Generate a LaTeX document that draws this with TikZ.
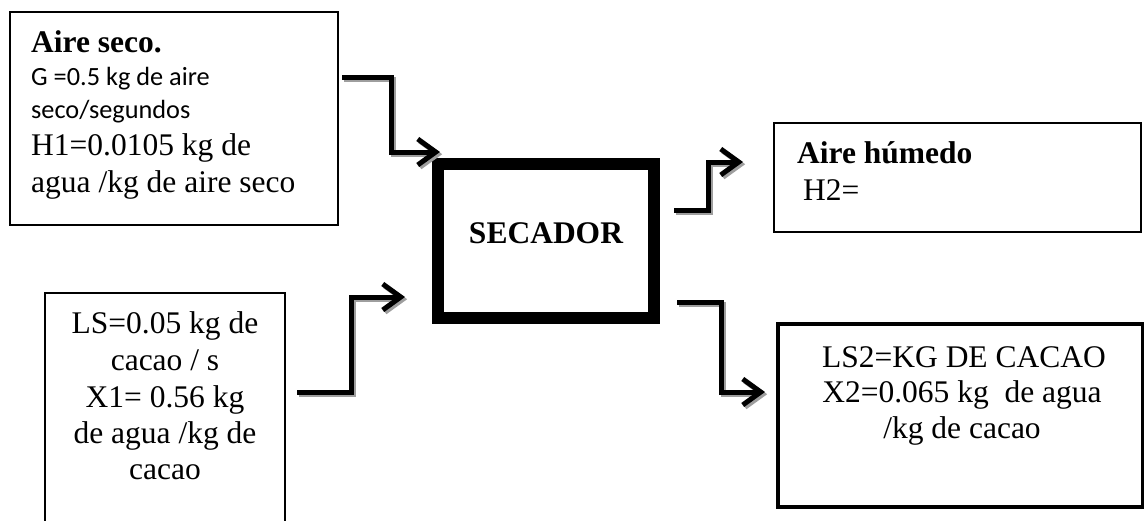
\documentclass[tikz,border=0pt]{standalone}
\usepackage{fontspec}
\setmainfont{Liberation Serif}
\newfontfamily\calibfont{Carlito}
\usetikzlibrary{arrows.meta,calc}
\tikzset{
  box/.style={draw, line width=1.5pt, inner sep=0pt, outer sep=0pt},
  tx/.style={inner sep=0pt, font=\fontsize{31.5}{36}\selectfont},
  txb/.style={inner sep=0pt, font=\fontsize{31.5}{36}\selectfont\bfseries},
  txs/.style={inner sep=0pt, font=\calibfont\fontsize{26.3}{30}\selectfont},
  flow/.style={line width=5pt, -{Straight Barb[length=18pt,width=26pt]}},
  flowshadow/.style={flow, draw=black!38, transform canvas={xshift=2.2pt,yshift=-2.2pt}},
}
\begin{document}
\begin{tikzpicture}[x=1pt,y=-1pt]
\useasboundingbox (0,0) rectangle (1144,520);
% boxes
\node[box, minimum width=328pt, minimum height=213pt] (A) at (174,118.5) {};
\node[box, minimum width=367pt, minimum height=109pt] (B) at (957.5,177.5) {};
\node[box, line width=12pt, minimum width=216pt, minimum height=154pt] (S) at (546,241) {};
\node[box, minimum width=240pt, minimum height=237pt] (C) at (165,411.5) {};
\node[box, line width=4pt, minimum width=365pt, minimum height=183pt] (D) at (960.5,415.5) {};
% texts of A
\node[txb, anchor=base west] (A1) at (31,52) {Aire seco.};
\node[txs, anchor=base west] (A2) at (31,85) {G =0.5 kg de aire};
\node[txs, anchor=base west] (A3) at (31,118) {seco/segundos};
\node[tx, anchor=base west] (A4) at (31,155) {H1=0.0105 kg de};
\node[tx, anchor=base west] (A5) at (31,192) {agua /kg de aire seco};
% texts of B
\node[txb, anchor=base west] (B1) at (797,163) {Aire húmedo};
\node[tx, anchor=base west] (B2) at (803,200) {H2=};
% text of S
\node[txb, anchor=base] (S1) at (546,243) {SECADOR};
% texts of C
\node[tx, anchor=base] (C1) at (165,333) {LS=0.05 kg de};
\node[tx, anchor=base] (C2) at (165,370) {cacao / s};
\node[tx, anchor=base] (C3) at (165,407) {X1= 0.56 kg};
\node[tx, anchor=base] (C4) at (165,443) {de agua /kg de};
\node[tx, anchor=base] (C5) at (165,479) {cacao};
% texts of D
\node[tx, anchor=base] (D1) at (964,367) {LS2=KG DE CACAO};
\node[tx, anchor=base] (D2) at (962,402) {X2=0.065 kg\ \ de agua};
\node[tx, anchor=base] (D3) at (962,438) {/kg de cacao};
% connector end points
\coordinate (a1s) at ($(A.north east)+(4,65)$);
\coordinate (a1e) at ($(S.north west)+(2,-12)$);
\coordinate (a2s) at ($(C.north east)+(12,99)$);
\coordinate (a2e) at ($(S.north west)+(-33,133)$);
\coordinate (a3s) at ($(S.north east)+(20,46)$);
\coordinate (a3e) at ($(B.north west)+(-31,39)$);
\coordinate (a4s) at ($(S.south east)+(23,-16)$);
\coordinate (a4e) at ($(D.north west)+(-13,68)$);
% shadows
\draw[flowshadow] (a1s) -| ($(a1s)!.5!(a1e)$) |- (a1e);
\draw[flowshadow] (a2s) -| ($(a2s)!.5!(a2e)$) |- (a2e);
\draw[flowshadow] (a3s) -| ($(a3s)!.5!(a3e)$) |- (a3e);
\draw[flowshadow] (a4s) -| ($(a4s)!.5!(a4e)$) |- (a4e);
% connectors
\draw[flow] (a1s) -| ($(a1s)!.5!(a1e)$) |- (a1e);
\draw[flow] (a2s) -| ($(a2s)!.5!(a2e)$) |- (a2e);
\draw[flow] (a3s) -| ($(a3s)!.5!(a3e)$) |- (a3e);
\draw[flow] (a4s) -| ($(a4s)!.5!(a4e)$) |- (a4e);
\end{tikzpicture}
\end{document}
